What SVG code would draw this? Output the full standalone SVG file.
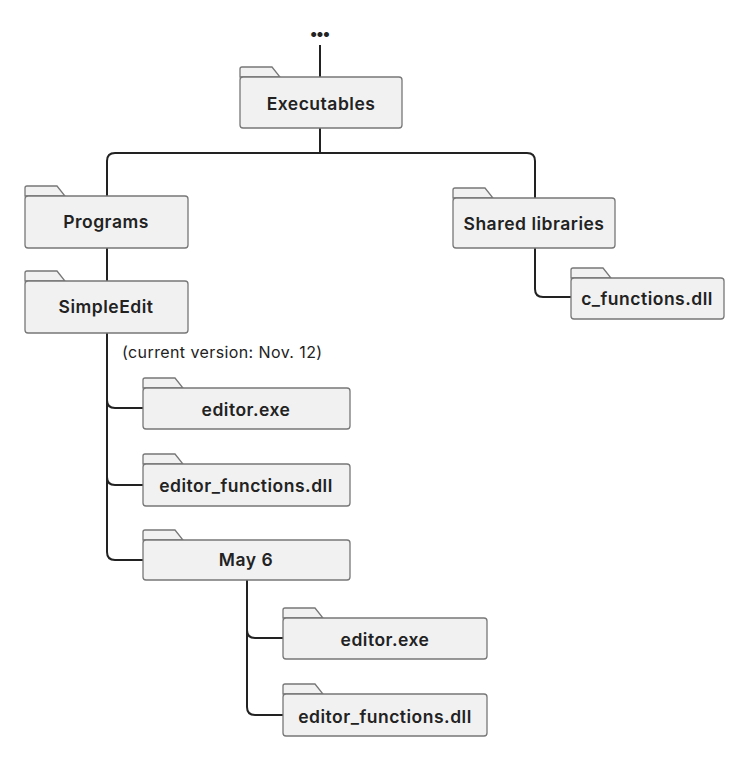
<svg xmlns="http://www.w3.org/2000/svg" width="750" height="759" viewBox="0 0 750 759">
<style>
.f{fill:#f1f1f1;stroke:#777;stroke-width:1.3}
.t{font-family:Inter,"Open Sans",sans-serif;font-weight:600;font-size:17.5px;letter-spacing:0.5px;fill:#222;text-anchor:middle;dominant-baseline:central}
.c path{fill:none;stroke:#222;stroke-width:2}
</style>
<rect width="750" height="759" fill="#fff"/>
<g class="c">
<path d="M320 45V77M320 128V153M107 196V161Q107 153 115 153H527Q535 153 535 161V198"/>
<path d="M107 248V281M107 333V552Q107 560 115 560H143M107 400Q107 408 115 408H143M107 477Q107 485 115 485H143"/>
<path d="M247 580V707Q247 715 255 715H283M247 630Q247 638 255 638H283"/>
<path d="M535 248V289Q535 297 543 297H571"/>
</g>
<text x="320" y="33" class="t" style="font-size:16px;font-weight:900;letter-spacing:0">•••</text>
<g id="executables"><path class="f" d="M240 77V69Q240 67 242 67H272L280 77Z"/><rect class="f" x="240" y="77" width="162" height="51" rx="3"/><text class="t" x="321" y="103">Executables</text></g>
<g id="programs"><path class="f" d="M25 196V188Q25 186 27 186H57L65 196Z"/><rect class="f" x="25" y="196" width="163" height="52" rx="3"/><text class="t" x="106" y="221">Programs</text></g>
<g id="simpleedit"><path class="f" d="M25 281V273Q25 271 27 271H57L65 281Z"/><rect class="f" x="25" y="281" width="163" height="52" rx="3"/><text class="t" x="106" y="306">SimpleEdit</text></g>
<text x="122" y="352" style="font-family:Inter,'Open Sans',sans-serif;font-size:16px;letter-spacing:0.4px;fill:#222;dominant-baseline:central">(current version: Nov. 12)</text>
<g id="editor1"><path class="f" d="M143 388V380Q143 378 145 378H175L183 388Z"/><rect class="f" x="143" y="388" width="207" height="41" rx="3"/><text class="t" x="246" y="409">editor.exe</text></g>
<g id="editorfn1"><path class="f" d="M143 464V456Q143 454 145 454H175L183 464Z"/><rect class="f" x="143" y="464" width="207" height="42" rx="3"/><text class="t" x="246" y="485">editor_functions.dll</text></g>
<g id="may6"><path class="f" d="M143 540V532Q143 530 145 530H175L183 540Z"/><rect class="f" x="143" y="540" width="207" height="40" rx="3"/><text class="t" x="246" y="559">May 6</text></g>
<g id="editor2"><path class="f" d="M283 618V610Q283 608 285 608H315L323 618Z"/><rect class="f" x="283" y="618" width="204" height="41" rx="3"/><text class="t" x="385" y="639">editor.exe</text></g>
<g id="editorfn2"><path class="f" d="M283 694V686Q283 684 285 684H315L323 694Z"/><rect class="f" x="283" y="694" width="204" height="42" rx="3"/><text class="t" x="385" y="716">editor_functions.dll</text></g>
<g id="shared"><path class="f" d="M453 198V190Q453 188 455 188H485L493 198Z"/><rect class="f" x="453" y="198" width="162" height="50" rx="3"/><text class="t" x="534" y="223">Shared libraries</text></g>
<g id="cfn"><path class="f" d="M571 278V270Q571 268 573 268H603L611 278Z"/><rect class="f" x="571" y="278" width="153" height="41" rx="3"/><text class="t" x="647" y="298">c_functions.dll</text></g>
</svg>
